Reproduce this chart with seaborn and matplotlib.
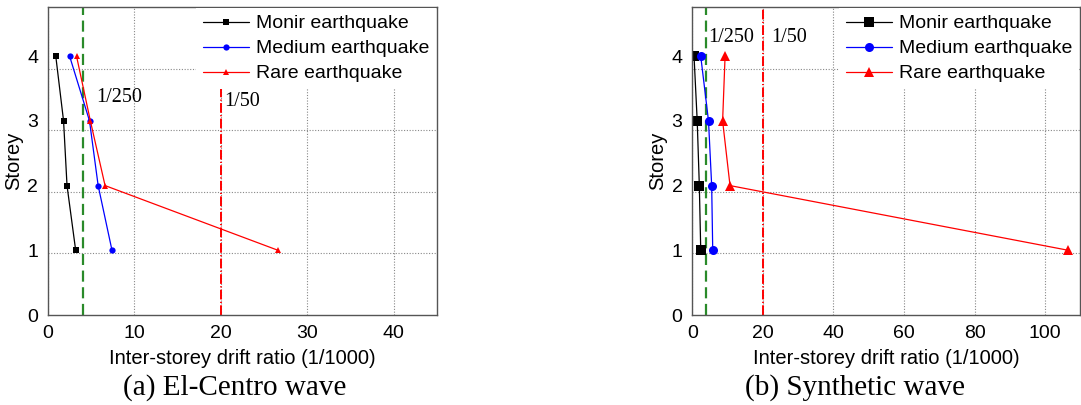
import numpy as np
import pandas as pd

import seaborn as sns
import matplotlib.pyplot as plt

# storey levels and drift ratios (1/1000)
storey = [4, 3, 2, 1]
cases = ["Monir earthquake", "Medium earthquake", "Rare earthquake"]

# (a) El-Centro wave
elc_monir = [0.9, 1.8, 2.2, 3.2]
elc_medium = [2.5, 4.8, 5.8, 7.4]
elc_rare = [3.3, 4.9, 6.6, 26.6]

# (b) Synthetic wave
syn_monir = [0.5, 1.4, 2.0, 2.4]
syn_medium = [2.4, 4.6, 5.5, 5.8]
syn_rare = [9.3, 8.6, 10.7, 106.6]

limit_250 = 4
limit_50 = 20

sns.set_theme(style="white")
plt.rcParams['font.family'] = ['Liberation Sans', 'DejaVu Sans']
plt.rcParams['text.color'] = 'black'
plt.rcParams['axes.labelcolor'] = 'black'
plt.rcParams['xtick.color'] = 'black'
plt.rcParams['ytick.color'] = 'black'

palette = {cases[0]: "black", cases[1]: "blue", cases[2]: "red"}
markers = {cases[0]: "s", cases[1]: "o", cases[2]: "^"}
ytop = 4.76


def make_df(monir, medium, rare):
    return pd.DataFrame({
        "drift": monir + medium + rare,
        "storey": storey * 3,
        "case": [cases[0]] * 4 + [cases[1]] * 4 + [cases[2]] * 4,
    })


fig = plt.figure(figsize=(10.81, 4.05), dpi=100)
ax1 = fig.add_axes([0.0444, 0.2222, 0.36, 0.7605])
ax2 = fig.add_axes([0.6404, 0.2222, 0.359, 0.7605])

panels = [
    (ax1, make_df(elc_monir, elc_medium, elc_rare), 45, [0, 10, 20, 30, 40], 4.5, 3.55),
    (ax2, make_df(syn_monir, syn_medium, syn_rare), 110, [0, 20, 40, 60, 80, 100], 6.5, ytop),
]

for ax, df, xmax, xticks, ms, red_top in panels:
    sns.lineplot(data=df, x="drift", y="storey", hue="case", style="case",
                 hue_order=cases, style_order=cases, palette=palette,
                 markers=markers, dashes=False, orient="y", estimator=None,
                 sort=False, ax=ax, lw=0.9, ms=ms, markeredgewidth=0)
    ax.vlines(limit_250, 0, ytop, color="#2a8a2a", lw=1.6, linestyles=(0, (5, 2.5)), zorder=1)
    ax.vlines(limit_50, 0, red_top, color="red", lw=1.4, linestyles=(0, (5, 1.2, 0.6, 1.2)), zorder=1)

    ax.set_xlim(0, xmax)
    ax.set_ylim(0, ytop)
    ax.set_xticks(xticks)
    ax.set_yticks([0, 1, 2, 3, 4])
    ax.set_yticks(np.linspace(0, ytop, 6)[1:-1], minor=True)
    ax.grid(axis="x", which="major", color="#888888", ls=(0, (1, 1.5)), lw=0.8)
    ax.grid(axis="y", which="minor", color="#888888", ls=(0, (1, 1.5)), lw=0.8)
    ax.tick_params(axis="both", which="both", length=0, labelsize=14, pad=7)
    for s in ax.spines.values():
        s.set_color("#555555")
        s.set_linewidth(1.0)
    ax.set_xlabel("Inter-storey drift ratio (1/1000)", fontsize=14.5, labelpad=5)
    ax.set_ylabel("Storey", fontsize=14.5, labelpad=3)

    sns.move_legend(ax, "upper right", bbox_to_anchor=(1.0, 1.0), title=None,
                    frameon=True, facecolor="white", edgecolor="none", framealpha=1,
                    fancybox=False, fontsize=14, handlelength=2.4, handletextpad=0.35,
                    labelspacing=0.38, borderpad=0.35, borderaxespad=0.05)

serif = ['Liberation Serif', 'DejaVu Serif']
ax1.text(5.6, 3.36, "1/250", family=serif, fontsize=14.5, ha="left", va="center")
ax1.text(20.35, 3.3, "1/50", family=serif, fontsize=14.5, ha="left", va="center")
ax2.text(4.5, 4.29, "1/250", family=serif, fontsize=14.5, ha="left", va="center")
ax2.text(22.3, 4.29, "1/50", family=serif, fontsize=14.5, ha="left", va="center")

fig.text(0.2174, 0.042, "(a) El-Centro wave", family=serif, fontsize=21, ha="center", va="center")
fig.text(0.791, 0.042, "(b) Synthetic wave", family=serif, fontsize=21, ha="center", va="center")

fig.savefig("out.png", dpi=100)
